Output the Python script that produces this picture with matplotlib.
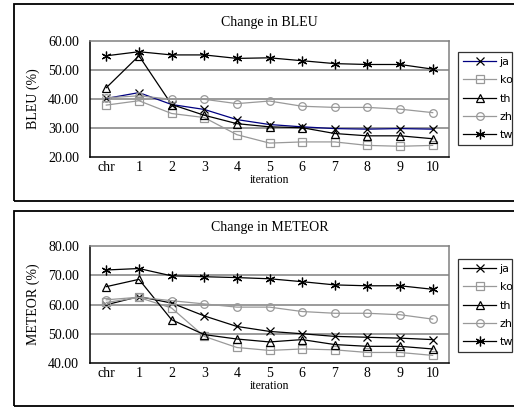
import matplotlib
matplotlib.use("Agg")
import matplotlib.pyplot as plt
from matplotlib.patches import Rectangle

iterations = ["chr", "1", "2", "3", "4", "5", "6", "7", "8", "9", "10"]
languages = ["ja", "ko", "th", "zh", "tw"]

bleu_ja = [40.2, 42.2, 38.1, 36.4, 32.9, 31.2, 30.4, 29.8, 29.6, 29.8, 29.6]
bleu_ko = [37.9, 39.4, 35.0, 33.6, 27.7, 24.8, 25.2, 25.2, 24.0, 23.7, 24.0]
bleu_th = [43.9, 54.9, 38.1, 34.4, 31.5, 30.4, 30.1, 28.1, 27.3, 27.3, 26.3]
bleu_zh = [40.4, 41.1, 39.9, 39.9, 38.4, 39.3, 37.5, 37.1, 37.1, 36.5, 35.3]
bleu_tw = [54.9, 56.3, 55.2, 55.2, 54.0, 54.2, 53.2, 52.2, 51.9, 51.9, 50.3]

meteor_ja = [59.9, 62.7, 60.5, 56.1, 52.5, 50.8, 50.0, 49.1, 48.8, 48.5, 48.0]
meteor_ko = [60.7, 62.4, 58.8, 49.1, 45.3, 44.3, 44.8, 44.5, 43.6, 43.6, 42.6]
meteor_th = [66.1, 68.6, 54.8, 49.7, 48.2, 47.2, 48.0, 46.3, 45.7, 45.7, 44.8]
meteor_zh = [61.6, 62.5, 61.3, 60.2, 59.1, 59.1, 57.6, 57.0, 57.0, 56.5, 55.0]
meteor_tw = [71.8, 72.3, 69.8, 69.5, 69.2, 68.8, 67.8, 66.7, 66.4, 66.4, 65.2]

SERIF = "Liberation Serif"
GRAY = "#999999"


def draw_panel(fig, rect, series, ja_color, title, ylabel, yticks, legend_rect, panel_rect):
    fig.patches.append(Rectangle(panel_rect[:2], panel_rect[2], panel_rect[3],
                                 transform=fig.transFigure, fill=False,
                                 edgecolor="black", linewidth=1.3))
    ax = fig.add_axes(rect)
    x = list(range(len(iterations)))
    styles = {
        "ja": dict(color=ja_color, marker="x", mec="black", ms=6, mew=0.9),
        "ko": dict(color=GRAY, marker="s", mfc="none", mec=GRAY, ms=5.5, mew=0.9),
        "th": dict(color="black", marker="^", mfc="none", mec="black", ms=6, mew=0.9),
        "zh": dict(color=GRAY, marker="o", mfc="none", mec=GRAY, ms=5.5, mew=0.9),
        "tw": dict(color="black", marker=(6, 2, 0), mec="black", ms=7, mew=0.9),
    }
    handles = []
    for lang, values in zip(languages, series):
        (h,) = ax.plot(x, values, linewidth=0.9, label=lang, **styles[lang])
        handles.append(h)

    ax.set_xlim(-0.5, len(iterations) - 0.5)
    ax.set_ylim(yticks[0], yticks[-1])
    ax.set_yticks(yticks)
    ax.set_yticklabels([f"{v:.2f}" for v in yticks], fontfamily=SERIF, fontsize=10)
    ax.set_xticks(x)
    ax.set_xticklabels(iterations, fontfamily=SERIF, fontsize=10)
    ax.tick_params(axis="y", length=0, pad=8)
    ax.tick_params(axis="x", length=0, pad=3)
    for y in yticks[1:-1]:
        ax.axhline(y, color="#808080", linewidth=1.1, zorder=0)
    for side in ("top", "right"):
        ax.spines[side].set_color("#808080")
        ax.spines[side].set_linewidth(1.1)
    for side in ("left", "bottom"):
        ax.spines[side].set_color("black")
        ax.spines[side].set_linewidth(1.1)

    ax.set_title(title, fontfamily=SERIF, fontsize=10, pad=11)
    ax.set_ylabel(ylabel, fontfamily=SERIF, fontsize=10, labelpad=6)
    ax.set_xlabel("iteration", fontfamily=SERIF, fontsize=8.5, labelpad=0)

    leg = fig.legend(handles=handles, loc="upper left",
                     bbox_to_anchor=legend_rect, bbox_transform=fig.transFigure,
                     mode="expand", fontsize=8, frameon=True, fancybox=False,
                     borderaxespad=0, handlelength=3.0, handletextpad=0.3,
                     labelspacing=0.75, borderpad=0.45)
    leg.get_frame().set_edgecolor("black")
    leg.get_frame().set_linewidth(0.9)
    return ax


fig = plt.figure(figsize=(5.14, 4.08), dpi=100)

draw_panel(fig, [90 / 514, 1 - 157 / 408, 359 / 514, 116 / 408],
           [bleu_ja, bleu_ko, bleu_th, bleu_zh, bleu_tw], "#000080",
           "Change in BLEU", "BLEU (%)", [20, 30, 40, 50, 60],
           (458 / 514, 1 - 52 / 408, 54 / 514, 0.0),
           (14 / 514, 1 - 200.5 / 408, 1.0, 196.5 / 408))

draw_panel(fig, [90 / 514, 1 - 363 / 408, 359 / 514, 117 / 408],
           [meteor_ja, meteor_ko, meteor_th, meteor_zh, meteor_tw], "black",
           "Change in METEOR", "METEOR (%)", [40, 50, 60, 70, 80],
           (458 / 514, 1 - 259 / 408, 54 / 514, 0.0),
           (14 / 514, 1 - 406 / 408, 1.0, 195 / 408))

fig.savefig("out.png", dpi=100)
